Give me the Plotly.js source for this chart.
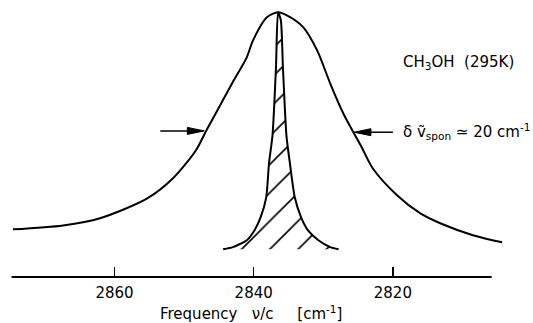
<!DOCTYPE html>
<html>
<head>
<meta charset="utf-8">
<script src="https://cdn.plot.ly/plotly-3.0.1.min.js"></script>
<style>html,body{margin:0;padding:0;background:#fff;}#chart{width:533px;height:323px;}</style>
</head>
<body>
<div id="chart"></div>
<script>
// Spontaneous Raman band of CH3OH (295K), intensity in arbitrary units (peak = 1)
const broadFreq = [2874.6, 2867.4, 2862.1, 2855.3, 2851.6, 2848.3, 2846.8, 2845.6, 2843.1, 2841.0, 2840.1, 2838.1, 2836.5,
                   2835.3, 2832.9, 2830.9, 2829.0, 2827.1, 2825.7, 2824.5, 2822.9, 2819.4, 2816.1, 2813.2, 2808.5, 2804.3];
const broadInt  = [0.180, 0.195, 0.222, 0.297, 0.373, 0.479, 0.554, 0.611, 0.732, 0.830, 0.894, 0.981, 1.000,
                   0.989, 0.944, 0.857, 0.731, 0.617, 0.548, 0.491, 0.411, 0.309, 0.241, 0.203, 0.158, 0.131];

// Narrow (hatched) line
const narrowFreq = [2844.4, 2843.0, 2841.0, 2839.9, 2839.0, 2838.2, 2837.8, 2837.3, 2836.8, 2836.5,
                    2836.1, 2835.8, 2835.3, 2834.8, 2834.1, 2833.2, 2832.2, 2830.7, 2829.0, 2827.8];
const narrowInt  = [0.105, 0.113, 0.139, 0.176, 0.226, 0.301, 0.430, 0.535, 0.792, 1.000,
                    0.970, 0.792, 0.535, 0.430, 0.301, 0.226, 0.176, 0.139, 0.113, 0.105];

const tickValues = [2860, 2840, 2820];
const tickLabels = ['2860', '2840', '2820'];

const NB = '\u00A0';
const xTitle = 'Frequency' + NB.repeat(3) + 'ν/c' + NB.repeat(5) + '[cm<sup>-1</sup>]';
const sampleLabel = 'CH<sub>3</sub>OH' + NB.repeat(2) + '(295K)';
const widthLabel = 'δ' + NB + 'ṽ<sub>spon</sub>' + NB + '≃' + NB + '20' + NB + 'cm<sup>-1</sup>';

const FONT = 'DejaVu Sans, sans-serif';

const traces = [
  {
    x: broadFreq, y: broadInt, type: 'scatter', mode: 'lines',
    line: {color: '#000', width: 2, shape: 'spline', smoothing: 0.8},
    hoverinfo: 'skip', showlegend: false
  },
  {
    x: narrowFreq, y: narrowInt, type: 'scatter', mode: 'lines',
    line: {color: '#000', width: 2, shape: 'spline', smoothing: 0.6},
    fill: 'toself', fillcolor: 'rgba(255,255,255,0)',
    fillpattern: {shape: '/', size: 20, solidity: 0.08, fgcolor: '#000', bgcolor: 'rgba(255,255,255,0)'},
    hoverinfo: 'skip', showlegend: false
  }
];

const leftTip = {x: 2847.1, y: 0.552};
const rightTip = {x: 2825.6, y: 0.547};

function arrowShapes(tip, dir) {
  // dir = +1: tail to the right of the tip; -1: tail to the left
  return [
    {type: 'line', xref: 'x', yref: 'y', xsizemode: 'pixel', ysizemode: 'pixel',
     xanchor: tip.x, yanchor: tip.y, x0: dir * 12, x1: dir * (dir > 0 ? 39 : 44), y0: 0, y1: 0,
     line: {color: '#000', width: 1.5}},
    {type: 'path', xref: 'x', yref: 'y', xsizemode: 'pixel', ysizemode: 'pixel',
     xanchor: tip.x, yanchor: tip.y,
     path: 'M0,0 L' + (dir * 17) + ',3.5 L' + (dir * 17) + ',-3.5 Z',
     fillcolor: '#000', line: {color: '#000', width: 1}}
  ];
}

const layout = {
  width: 533, height: 323,
  margin: {l: 10, r: 25, t: 0, b: 46},
  paper_bgcolor: '#fff', plot_bgcolor: '#fff',
  font: {family: FONT, color: '#000', size: 15},
  showlegend: false,
  xaxis: {
    range: [2875.03, 2803.45],
    showgrid: false, zeroline: false, showline: false,
    tickmode: 'array', tickvals: tickValues, ticktext: tickLabels,
    ticks: 'inside', ticklen: 10, tickwidth: 1.5, tickcolor: '#000',
    ticklabelstandoff: 5,
    tickfont: {family: FONT, size: 15, color: '#000'},
    fixedrange: true
  },
  yaxis: {
    range: [0, 1.0465], visible: false, showgrid: false, zeroline: false, fixedrange: true
  },
  shapes: [
    {type: 'line', xref: 'x', yref: 'paper', x0: 2874.8, x1: 2805.8, y0: 0, y1: 0,
     line: {color: '#000', width: 2}}
  ].concat(arrowShapes(leftTip, -1), arrowShapes(rightTip, 1)),
  annotations: [
    {text: xTitle, xref: 'paper', yref: 'paper', x: 0.297, y: -0.172, xanchor: 'left', yanchor: 'bottom',
     showarrow: false, font: {family: FONT, size: 15, color: '#000'}},
    {text: sampleLabel, xref: 'paper', yref: 'paper', x: 0.785, y: 0.776, xanchor: 'left', yanchor: 'middle',
     showarrow: false, font: {family: FONT, size: 15, color: '#000'}},
    {text: widthLabel, xref: 'paper', yref: 'paper', x: 0.785, y: 0.5235, xanchor: 'left', yanchor: 'middle',
     showarrow: false, font: {family: FONT, size: 15, color: '#000'}}
  ]
};

Plotly.newPlot('chart', traces, layout, {displayModeBar: false, staticPlot: true});
</script>
</body>
</html>
